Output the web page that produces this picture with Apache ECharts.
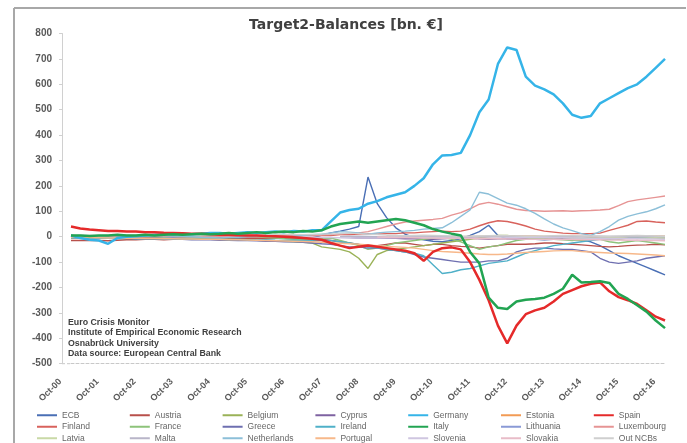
<!DOCTYPE html>
<html><head><meta charset="utf-8">
<script src="https://cdn.jsdelivr.net/npm/echarts@6/dist/echarts.min.js"></script>
<style>html,body{margin:0;padding:0;background:#fff}#c{width:687px;height:443px}</style>
</head><body><div id="c"></div>
<script>
// quarterly categories Oct-00 .. Oct-16
var categories = ["Oct-00","Jan-01","Apr-01","Jul-01","Oct-01","Jan-02","Apr-02","Jul-02","Oct-02","Jan-03","Apr-03","Jul-03","Oct-03","Jan-04","Apr-04","Jul-04","Oct-04","Jan-05","Apr-05","Jul-05","Oct-05","Jan-06","Apr-06","Jul-06","Oct-06","Jan-07","Apr-07","Jul-07","Oct-07","Jan-08","Apr-08","Jul-08","Oct-08","Jan-09","Apr-09","Jul-09","Oct-09","Jan-10","Apr-10","Jul-10","Oct-10","Jan-11","Apr-11","Jul-11","Oct-11","Jan-12","Apr-12","Jul-12","Oct-12","Jan-13","Apr-13","Jul-13","Oct-13","Jan-14","Apr-14","Jul-14","Oct-14","Jan-15","Apr-15","Jul-15","Oct-15","Jan-16","Apr-16","Jul-16","Oct-16"];
var yTicks = [-500,-400,-300,-200,-100,0,100,200,300,400,500,600,700,800];

var ECB = [-5,-5,-5,-4,-6,-5,-5,-4,-5,-5,-6,-5,-5,-5,-4,-5,-5,-6,-5,-5,-4,-5,-5,-6,-5,-5,-4,
  5,15,22,30,40,235,130,75,35,10,-5,-12,-18,-20,-15,-8,5,20,45,5,-8,-10,-10,-10,-12,-10,-10,-10,-12,-20,-35,-55,-75,-90,-105,-120,-135,-150];
var Austria = [-15,-15,-14,-15,-16,-14,-12,-12,-10,-10,-12,-10,-8,-8,-10,-8,-8,-6,-8,-6,-5,-6,-5,-4,-5,-6,-8,-10,
  -15,-20,-25,-30,-40,-35,-30,-25,-25,-30,-35,-30,-30,-35,-38,-40,-45,-40,-35,-30,-30,-30,-28,-25,-25,-28,-30,-32,-35,-38,-40,-38,-35,-33,-32,-30,-32];
var Belgium = [-5,-5,-4,-5,-6,-5,-6,-5,-6,-7,-6,-8,-7,-8,-8,-9,-10,-10,-12,-12,-14,-15,-16,-18,-20,-22,-25,
  -40,-45,-50,-60,-85,-125,-70,-55,-50,-45,-40,-35,-30,-25,-20,-15,-10,-5,0,5,5,0,-5,-10,-10,-5,-5,-10,-15,-10,-5,-5,-10,-5,-2,0,-5,-8];
var Cyprus = [null,null,null,null,null,null,null,null,null,null,null,null,null,null,null,null,null,null,null,null,null,null,null,null,null,null,null,null,null,
  -2,-3,-5,-5,-4,-5,-6,-8,-8,-10,-10,-8,-6,-5,-5,-8,-10,-8,-8,-7,-6,-6,-5,-5,-5,-5,-4,-4,-3,-3,-3,-2,-2,-3,-3,-3];
var Germany = [5,-5,-12,-15,-28,-5,0,2,5,8,10,10,12,10,12,15,15,12,15,18,15,18,20,18,22,20,25,25,
  60,95,105,110,130,140,155,165,175,200,230,285,320,322,330,400,490,540,680,745,735,630,595,580,560,525,480,468,475,525,545,565,585,600,630,665,700];
var Estonia = [null,null,null,null,null,null,null,null,null,null,null,null,null,null,null,null,null,null,null,null,null,null,null,null,null,null,null,null,null,null,null,null,null,null,null,null,null,null,null,null,null,
  0,0,1,1,1,1,2,2,2,2,1,1,1,1,1,0,0,0,0,1,1,1,2,2];
var Spain = [40,32,28,25,22,22,20,20,18,18,16,15,14,12,12,10,8,8,6,5,5,3,2,0,-2,-5,-8,-12,
  -25,-35,-45,-40,-35,-40,-45,-50,-55,-65,-95,-60,-45,-42,-50,-100,-170,-250,-350,-420,-350,-305,-290,-280,-255,-225,-210,-195,-185,-180,-215,-238,-250,-265,-290,-315,-330];
var Finland = [5,3,2,2,0,0,-2,-2,0,0,2,2,3,3,2,2,0,0,-2,-2,0,2,2,3,3,5,5,5,
  5,8,8,10,12,10,12,12,15,15,18,20,22,20,22,30,43,55,63,60,52,42,30,22,18,14,12,12,12,14,25,35,45,60,62,58,55];
var France = [0,2,3,2,0,-2,0,2,3,5,3,2,0,-2,-3,-2,0,2,3,2,0,-3,-5,-8,-10,-12,-10,-8,
  -5,-15,-25,-35,-50,-45,-35,-25,-20,-15,-10,-5,0,-10,-20,-35,-50,-40,-35,-25,-15,-10,-5,-8,-10,-12,-15,-10,-5,-10,-20,-25,-20,-15,-20,-25,-30];
var Greece = [-3,-3,-5,-5,-5,-6,-6,-8,-8,-8,-10,-10,-10,-12,-12,-12,-14,-14,-15,-15,-16,-18,-18,-20,-20,-22,-25,-28,
  -30,-35,-40,-40,-45,-45,-50,-55,-60,-70,-80,-85,-90,-95,-100,-100,-100,-95,-95,-85,-60,-50,-45,-45,-48,-50,-50,-55,-60,-85,-100,-105,-100,-95,-85,-80,-75];
var Ireland = [-5,-5,-6,-5,-6,-7,-6,-8,-8,-7,-8,-9,-8,-10,-10,-9,-10,-12,-10,-12,-13,-12,-14,-15,-14,-15,-16,-15,
  -15,-20,-25,-30,-40,-45,-50,-55,-60,-65,-75,-110,-145,-140,-130,-125,-115,-105,-100,-95,-80,-65,-55,-45,-35,-30,-25,-20,-15,-10,-10,-8,-5,-5,-3,0,0];
var Italy = [5,5,3,5,5,8,5,5,8,5,8,10,8,10,12,10,12,15,12,15,18,15,18,20,18,22,20,25,
  40,50,55,60,55,60,65,70,65,55,45,30,20,12,5,-60,-105,-240,-280,-285,-255,-248,-245,-240,-225,-205,-150,-180,-178,-175,-182,-225,-245,-270,-295,-330,-360];
var Lithuania = [null,null,null,null,null,null,null,null,null,null,null,null,null,null,null,null,null,null,null,null,null,null,null,null,null,null,null,null,null,null,null,null,null,null,null,null,null,null,null,null,null,null,null,null,null,null,null,null,null,null,null,null,null,null,null,null,null,
  -2,-3,-2,-1,0,1,0,-1];
var Luxembourg = [0,0,1,2,1,0,-1,0,1,2,2,1,0,0,1,2,2,3,2,1,0,1,2,3,4,5,5,6,
  8,10,12,15,20,30,40,50,58,62,65,68,72,85,95,110,128,135,128,118,108,103,102,100,101,102,100,102,103,105,108,122,138,145,150,155,160];
var Latvia = [null,null,null,null,null,null,null,null,null,null,null,null,null,null,null,null,null,null,null,null,null,null,null,null,null,null,null,null,null,null,null,null,null,null,null,null,null,null,null,null,null,null,null,null,null,null,null,null,null,null,null,null,null,
  -3,-5,-4,-6,-5,-4,-3,-5,-6,-5,-4,-5];
var Malta = [null,null,null,null,null,null,null,null,null,null,null,null,null,null,null,null,null,null,null,null,null,null,null,null,null,null,null,null,null,
  1,2,2,1,0,-1,-1,0,1,1,2,2,1,0,0,1,1,2,2,2,1,1,0,0,1,1,1,2,2,1,1,0,0,1,1,1];
var Netherlands = [5,3,2,0,-2,-3,-2,0,2,3,5,3,2,0,-2,-3,-5,-3,-2,0,2,3,2,0,2,5,8,10,
  15,20,18,15,10,15,18,20,22,25,30,32,35,55,80,105,175,168,150,132,124,110,92,70,50,35,24,12,5,20,40,65,80,90,98,110,125];
var Portugal = [-3,-3,-4,-4,-5,-5,-6,-6,-7,-7,-8,-8,-9,-9,-10,-10,-11,-12,-12,-13,-14,-15,-16,-17,-18,-19,-20,-22,
  -24,-26,-28,-30,-32,-35,-38,-40,-42,-45,-50,-55,-58,-60,-62,-65,-68,-70,-70,-68,-65,-62,-60,-58,-56,-55,-55,-58,-60,-62,-64,-65,-66,-68,-70,-72,-75];
var Slovenia = [null,null,null,null,null,null,null,null,null,null,null,null,null,null,null,null,null,null,null,null,null,null,null,null,null,
  -1,-2,-3,-3,-4,-4,-5,-5,-5,-4,-4,-3,-3,-3,-4,-4,-5,-5,-6,-6,-5,-5,-4,-4,-3,-3,-3,-4,-4,-5,-5,-6,-6,-7,-7,-8,-8,-9,-9,-10];
var Slovakia = [null,null,null,null,null,null,null,null,null,null,null,null,null,null,null,null,null,null,null,null,null,null,null,null,null,null,null,null,null,null,null,null,null,
  -1,-2,-3,-3,-4,-5,-5,-6,-6,-7,-7,-8,-8,-8,-9,-9,-10,-10,-10,-10,-11,-11,-12,-12,-12,-13,-13,-14,-14,-15,-15,-16];
var OutNCBs = [5,6,5,4,5,6,7,6,5,6,7,8,7,6,5,6,7,8,9,8,7,8,9,10,9,8,9,10,
  10,12,14,12,10,8,6,5,4,5,6,5,4,3,2,2,3,4,5,4,3,2,2,3,4,5,4,3,3,2,2,3,4,5,4,3,2];

var seriesNames = ["ECB","Austria","Belgium","Cyprus","Germany","Estonia","Spain","Finland","France","Greece","Ireland","Italy","Lithuania","Luxembourg","Latvia","Malta","Netherlands","Portugal","Slovenia","Slovakia","Out NCBs"];
var seriesData = [ECB,Austria,Belgium,Cyprus,Germany,Estonia,Spain,Finland,France,Greece,Ireland,Italy,Lithuania,Luxembourg,Latvia,Malta,Netherlands,Portugal,Slovenia,Slovakia,OutNCBs];
var colors = ['#4A6FB5','#B8504B','#9AB257','#7E62A1','#35B4E8','#F29B55','#E52A2A','#D8625C','#8DC37A','#6E6FB0','#4FB0C8','#22A452','#8A9AD6','#E69494','#C9D9A6','#B8B5C8','#8CBFD8','#F7B88A','#CFC6E0','#E8BCC8','#CFCFCF'];
var thick = {"Germany":2.5,"Spain":2.5,"Italy":2.5};

var series = seriesNames.map(function(n,i){
  return {name:n,type:'line',data:seriesData[i],showSymbol:false,symbol:'none',connectNulls:false,
    lineStyle:{width:thick[n]||1.4,color:colors[i]},itemStyle:{color:colors[i]},animation:false,z:thick[n]?3:2};
});

// legend: 7 columns x 3 rows (row-major order)
var legends = [];
for (var col=0; col<7; col++){
  legends.push({orient:'vertical', left:37+col*92.8, top:409.5, height:60, width:90,
    data:[seriesNames[col], seriesNames[col+7], seriesNames[col+14]].map(function(n){return {name:n,icon:'rect'};}),
    itemWidth:20, itemHeight:2, itemGap:0, padding:0, selectedMode:false,
    textStyle:{fontSize:8.5, color:'#666', lineHeight:11.5, fontFamily:'Liberation Sans'}});
}

var chart = echarts.init(document.getElementById('c'), null, {renderer:'canvas'});
chart.setOption({
  animation:false,
  color:colors,
  grid:{left:71, right:22, top:33.5, bottom:79.3},
  xAxis:{type:'category', data:categories, boundaryGap:false,
    axisLine:{onZero:false, lineStyle:{color:'#c8c8c8', type:[3,2], width:1}},
    axisTick:{show:false},
    axisLabel:{interval:3, rotate:45, fontSize:9, fontWeight:'bold', color:'#595959', margin:6, padding:[0,15,0,0], fontFamily:'Liberation Sans'},
    splitLine:{show:false}},
  yAxis:{type:'value', min:yTicks[0], max:yTicks[yTicks.length-1], interval:100, offset:9,
    axisLine:{show:true, lineStyle:{color:'#d0d0d0'}},
    axisTick:{show:true, length:3, lineStyle:{color:'#d0d0d0'}},
    axisLabel:{fontSize:10, fontWeight:'bold', color:'#595959', margin:10, fontFamily:'Liberation Sans'},
    splitLine:{show:false}},
  legend:legends,
  graphic:[
    {type:'line', shape:{x1:14,y1:8,x2:686,y2:8}, style:{stroke:'#a8a8a8', lineWidth:2}, silent:true},
    {type:'line', shape:{x1:14,y1:8,x2:14,y2:443}, style:{stroke:'#a8a8a8', lineWidth:2}, silent:true},
    {type:'line', shape:{x1:62,y1:363.7,x2:71,y2:363.7}, style:{stroke:'#c8c8c8', lineWidth:1, lineDash:[3,2]}, silent:true},
    {type:'text', style:{x:346, y:25, text:'Target2-Balances [bn. €]', align:'center', verticalAlign:'middle', font:'bold 14px "DejaVu Sans"', fill:'#404040'}, silent:true},
    {type:'text', left:68, top:317.5, style:{text:'Euro Crisis Monitor\nInstitute of Empirical Economic Research\nOsnabrück University\nData source: European Central Bank', fontSize:8.8, fontWeight:'bold', fill:'#404040', lineHeight:10.3, fontFamily:'Liberation Sans'}, z:10}
  ],
  series:series
});
</script></body></html>
